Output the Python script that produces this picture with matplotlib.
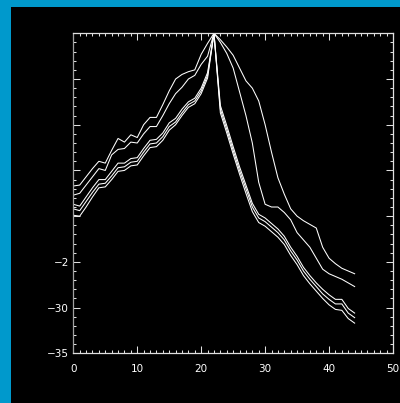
import numpy as np
import matplotlib
matplotlib.use('Agg')
import matplotlib.pyplot as plt
from matplotlib.patches import Rectangle
from matplotlib.ticker import FixedLocator, MultipleLocator, FixedFormatter

x = np.arange(45)

# five curves, all peaking at x=22
line_a = [-16.7, -16.6, -15.7, -14.8, -14.0, -14.2, -12.8, -11.5, -11.9, -11.1,
          -11.4, -10.0, -9.2, -9.2, -7.8, -6.3, -5.0, -4.5, -4.2, -4.0,
          -2.3, -1.1, 0.0, -0.7, -1.5, -2.4, -3.8, -5.2, -6.0, -7.4,
          -10.0, -13.0, -15.8, -17.6, -19.2, -20.0, -20.5, -20.9, -21.3, -23.4,
          -24.6, -25.2, -25.7, -26.0, -26.3]
line_b = [-17.7, -17.5, -16.6, -15.7, -14.8, -15.0, -13.3, -12.7, -12.6, -11.9,
          -12.0, -11.0, -10.2, -10.2, -9.0, -7.7, -6.6, -5.9, -5.0, -4.6,
          -3.4, -2.5, 0.0, -1.0, -2.2, -3.8, -6.4, -9.0, -12.0, -16.3,
          -18.7, -19.0, -19.0, -19.6, -20.4, -21.8, -22.6, -23.4, -24.6, -25.8,
          -26.3, -26.6, -26.9, -27.3, -27.7]
line_c = [-18.7, -18.9, -17.9, -16.9, -16.0, -16.0, -15.1, -14.2, -14.2, -13.7,
          -13.6, -12.6, -11.7, -11.6, -10.9, -9.8, -9.3, -8.3, -7.5, -7.1,
          -6.0, -4.3, 0.0, -7.9, -10.1, -12.4, -14.6, -16.6, -18.6, -19.8,
          -20.2, -20.8, -21.4, -22.2, -23.4, -24.4, -25.6, -26.5, -27.3, -28.0,
          -28.6, -29.1, -29.1, -30.1, -30.6]
line_d = [-19.2, -19.4, -18.4, -17.4, -16.5, -16.4, -15.6, -14.7, -14.6, -14.1,
          -14.0, -13.0, -12.1, -12.0, -11.3, -10.2, -9.7, -8.7, -7.8, -7.4,
          -6.3, -4.6, 0.0, -8.3, -10.5, -12.8, -15.0, -17.0, -19.0, -20.2,
          -20.6, -21.2, -21.8, -22.6, -23.8, -24.8, -26.0, -26.9, -27.7, -28.5,
          -29.1, -29.6, -29.6, -30.6, -31.1]
line_e = [-19.9, -20.0, -19.0, -17.9, -16.9, -16.8, -16.0, -15.1, -15.0, -14.5,
          -14.4, -13.4, -12.5, -12.4, -11.7, -10.6, -10.0, -9.0, -8.1, -7.7,
          -6.6, -4.9, 0.0, -8.7, -10.9, -13.2, -15.4, -17.5, -19.5, -20.7,
          -21.1, -21.7, -22.3, -23.1, -24.3, -25.3, -26.5, -27.4, -28.2, -29.0,
          -29.7, -30.2, -30.3, -31.2, -31.7]

ytick_vals = [-35, -30, -25, -20, -15, -10, -5, 0]
ytick_text = ['\u221235', '\u221230', '\u22122', '', '', '', '', '']
xtick_vals = [0, 10, 20, 30, 40, 50]

fig = plt.figure(figsize=(4, 4.03), dpi=100, facecolor='black')
# blue frame on top and left
fig.patches.append(Rectangle((0, 1 - 7 / 403), 1, 7 / 403, transform=fig.transFigure,
                             facecolor='#0099cc', edgecolor='none'))
fig.patches.append(Rectangle((0, 0), 11 / 400, 1, transform=fig.transFigure,
                             facecolor='#0099cc', edgecolor='none'))

ax = fig.add_axes([73.3 / 400, 49.7 / 403, 319.7 / 400, 320 / 403])
ax.set_facecolor('black')
for y in [line_a, line_b, line_c, line_d, line_e]:
    ax.plot(x, y, color='white', lw=0.75)

ax.set_xlim(0, 50)
ax.set_ylim(-35, 0)
ax.xaxis.set_major_locator(FixedLocator(xtick_vals))
ax.xaxis.set_minor_locator(MultipleLocator(1))
ax.yaxis.set_major_locator(FixedLocator(ytick_vals))
ax.yaxis.set_major_formatter(FixedFormatter(ytick_text))
ax.yaxis.set_minor_locator(MultipleLocator(1))

for s in ax.spines.values():
    s.set_color('#e0e0e0')
    s.set_linewidth(0.9)
ax.spines['left'].set_color('#a0a0a0')

ax.tick_params(which='both', direction='in', top=True, right=True,
               colors='#e0e0e0', labelcolor='white', labelsize=7.5, width=0.75)
ax.tick_params(which='major', length=5)
ax.tick_params(which='minor', length=2.5)
ax.tick_params(axis='x', pad=8)
ax.tick_params(axis='y', pad=3)

fig.savefig('out.png', dpi=100, facecolor='black')
